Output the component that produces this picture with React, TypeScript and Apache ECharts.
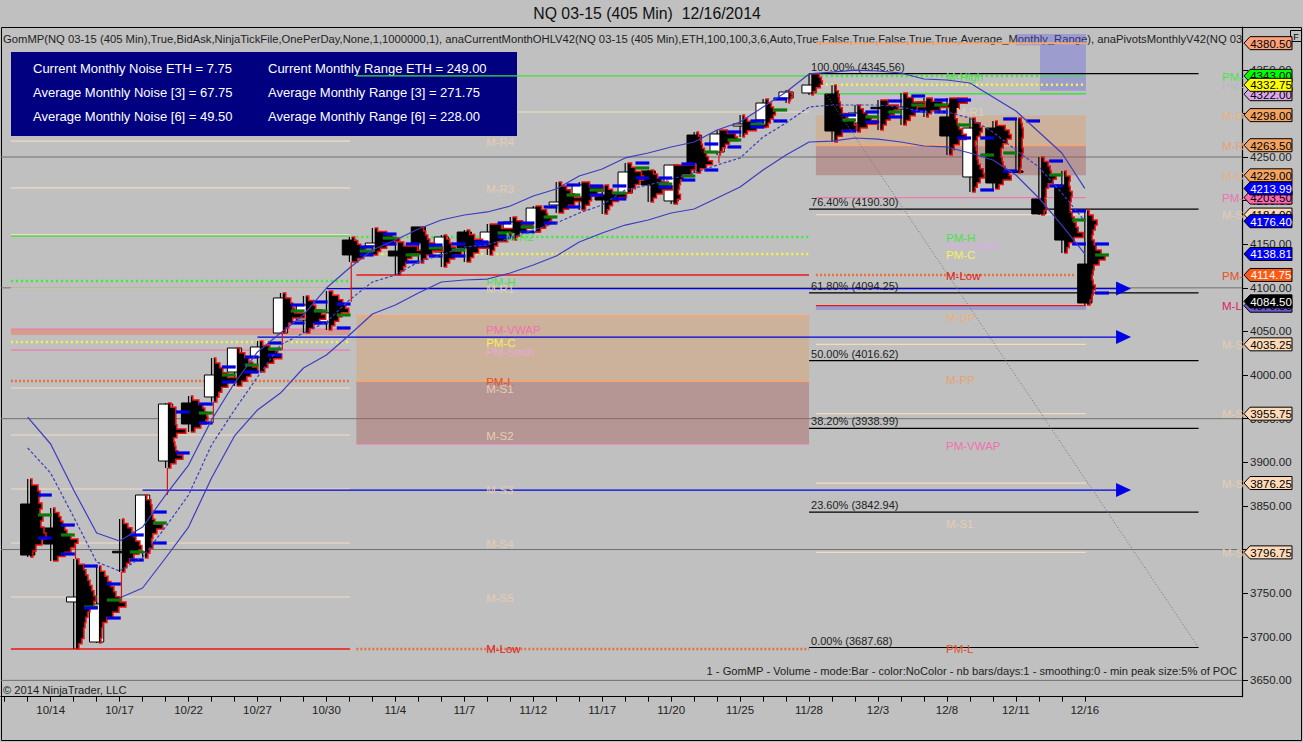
import React, { useEffect, useRef } from "react";
import * as echarts from "echarts";

const FONT = "Liberation Sans";

const dateLabels = ["10/14","10/17","10/22","10/27","10/30","11/4","11/7","11/12","11/17","11/20","11/25","11/28","12/3","12/8","12/11","12/16"];
const priceLabels = [3650,3700,3750,3800,3850,3900,3950,4000,4050,4100,4150,4200,4250,4300,4350];
const gridPrices = [3650,3800,3950,4100,4250];

// bars 1..47: open, close, low, high
const ohlc = [
[3852.2,3793.7,3791.4,3880.9],[3824.7,3806.3,3786.9,3847.6],[3739.9,3745.6,3686,3789.1],[3694,3737.6,3692.8,3781.1],
[3798,3796.5,3774.2,3835],[3797.2,3862.5,3790.3,3862.5],[3901.5,3966.8,3893.5,3968],[3968,3943.9,3934.7,3976],
[3974.9,4000.1,3969.1,4019.6],[4003.5,4031,3987.5,4031],[4020.7,4032.2,4003.5,4039.1],[4048.2,4088.4,4048.2,4094.1],
[4063.1,4080.3,4048.2,4090.7],[4060.8,4071.2,4051.7,4096.4],[4154.8,4137.7,4129.6,4158.3],[4148,4151.4,4137.7,4168.6],
[4142.2,4136.5,4114.7,4152.6],[4169.8,4151.4,4128.5,4169.8],[4141.1,4158.3,4123.9,4160.6],[4164,4145.7,4129.6,4166.3],
[4152.6,4164,4137.7,4173.2],[4158.3,4175.5,4154.8,4181.2],[4164,4191.5,4164,4193.8],[4195,4198.4,4185.8,4221.3],
[4204.1,4217.9,4189.2,4221.3],[4206.4,4200.7,4184.7,4217.9],[4208.7,4232.8,4208.7,4243.1],[4234,4217.9,4198.4,4235.1],
[4199.6,4240.8,4196.1,4240.8],[4275.2,4243.1,4231.7,4278.7],[4255.7,4276.4,4252.3,4281],[4285.5,4287.8,4272.9,4298.1],
[4292.4,4311.9,4284.4,4316.5],[4317.6,4324.5,4311.9,4326.8],[4323.4,4332.5,4321.1,4345.56],[4322.2,4279.8,4267.2,4332.5],
[4289,4300.4,4278.7,4309.6],[4307,4305.5,4281,4315.3],[4305,4307.3,4286.7,4323.4],[4313,4303.9,4295.9,4317.6],
[4295.9,4274.1,4252.3,4317.6],[4227.1,4283.2,4209.9,4294.7],[4283.2,4220.2,4213.3,4291.3],[4234,4232.2,4231.7,4294.7],
[4201.9,4184.7,4183.5,4250],[4217.9,4154.8,4140,4234],[4127.3,4082.6,4080.3,4189.2],
];

// volume at price of bars 1..47, top of the bar to its bottom
const profileVolumes = [
[2,8,10,9,12,10,13,11,14,16,12,6,3],[2,6,8,10,12,14,18,25,22,18,12,5],[3,8,10,12,14,16,18,20,18,14,12,10,9,8,8,6,3],
[2,6,9,12,15,17,21,27,20,14,8,4,3,3,2],[2,6,10,12,14,18,20,17,12,8,5,3],[2,6,7,7,8,10,18,12,8,7,8,5,3],
[3,8,8,8,8,9,18,9,6,7,8,10,15,8,3],[2,8,12,14,16,17,15,10,4],[2,6,9,14,23,14,8,5,3],[3,8,12,16,21,14,10,5],
[3,10,18,22,14,8,5],[3,8,10,12,22,10,6,3],[3,8,10,16,20,14,8,4],[4,10,14,17,20,13,10,6,3],[3,6,9,14,24,12,6],
[3,12,18,25,20,12,6,3],[6,20,24,14,10,8,6,3],[3,5,7,9,14,22,12,6,3],[3,6,8,12,18,11,6,3],[3,8,16,24,12,7,4],
[12,24,22,18,8,5,3],[4,10,20,14,8,4],[6,11,12,16,14,10,5],[3,8,12,16,24,16,10,5],[8,22,16,10,8,4],[4,8,22,14,8,5,3],
[4,8,14,16,12,8,4],[3,7,11,18,22,12,6,3],[22,18,10,7,6,5,7,4],[2,4,5,6,8,10,12,16,10,4],[8,16,18,10,6,3,1],
[2,5,14,24,14,5,2],[3,6,8,10,8,5,3],[1,3,4,3,2,1],[8,10,11,9,5,2],[2,4,5,6,8,12,20,22,8,3],[3,6,10,14,20,10,3],
[8,18,14,10,6,3],[4,10,22,14,12,7,3],[6,16,24,14,5,2],[18,10,8,6,8,10,13,17,10,5,3],
[3,8,10,8,5,3,4,5,5,6,8,11,12,8,5,3],[2,10,14,16,12,8,6,6,7,8,10,14,16,8,4],[3,4,5,5,4,4,5,4,3,3,2],
[3,7,9,10,15,12,7,5,5,4,4,5,3],[2,6,5,6,8,7,6,6,8,10,12,14,19,10,5,3],[2,6,10,8,6,5,7,9,14,18,12,7,6,5,6,8,6,5,3],
];

const valueAreaHigh = [3862.5,3828.1,3781.1,3760.5,3816.7,3843,3957.7,3966.8,4009.3,4020.7,4036.8,4080.3,4083.8,4081.5,4146.8,4161.7,4150.3,4149.1,4150.3,4152.6,4174.3,4174.3,4192.7,4217.9,4216.8,4216.8,4243.1,4225.9,4242,4264.9,4278.7,4291.3,4316.5,null,null,4298.1,4301.6,4314.2,4319.9,4315.3,4315.3,4271.8,4293.6,4291.3,4245.4,4188.1,4150.3];
const pocPrice = [3839.6,3816.7,3734.1,3742.1,3797.2,3830.4,null,3956.5,4000.1,4011.5,4029.9,4073.5,4073.5,4068.9,4142.2,4157.1,4137.7,4145.7,4143.4,4151.4,4162.9,4169.8,4181.2,4206.4,4212.2,4208.7,4237.4,4219,4228.2,4255.7,4269.5,4287.8,4303.9,null,null,4292.4,4295.9,4301.6,4309.6,4309.6,4286.7,4252.3,4254.6,null,4229.4,4177.8,4137.7];
const valueAreaLow = [3813.2,3794.9,3733,3721.5,3788,3807.5,3910.7,3945.1,3992.1,4003.5,4023,4059.7,4059.7,4054,4137.7,4150.3,4129.6,4136.5,4136.5,4149.1,4158.3,4164,4174.3,4192.7,4206.4,4201.9,4225.9,4215.6,4223.6,4235.1,4261.5,4284.4,4291.3,null,null,4279.8,4290.1,4295.9,4302.7,4301.6,4271.8,4212.2,4234,null,4216.8,4150.3,4094.1];

// thin red wick extensions: bar, upper price, lower price
const redTails = [[3,3806,3789.1],[5,3774.2,3737.6],[7,3893.5,3862.5],[9,3969.1,3945.1],[12,4048.2,4028.7],[15,4129.6,4083.8],[31,4252.3,4243]];

const bandUpper = [3951.9,3921,3868.2,3819,3809.8,3825.8,3862.5,3896.9,3948.5,3990.9,4026.5,4048.2,4068.9,4099.8,4122.7,4143.4,4154.8,4167.5,4177.8,4183.5,4187,4193.8,4205.3,4213.3,4228.2,4236.2,4248.9,4254.6,4261.5,4267.2,4281,4290.1,4307.3,4324.5,4345.2,4347.4,4349.7,4348.6,4346.3,4339.4,4338.3,4334.8,4318.8,4302.7,4278.7,4254.6,4213.99];
const bandMiddle = [3916.4,3887.7,3837.3,3785.7,3775.4,3791.4,3825.8,3862.5,3919.8,3960,3997.8,4034.5,4048.2,4060.8,4086.1,4106.7,4114.7,4129.6,4137.7,4146.8,4149.1,4157.1,4166.3,4174.3,4185.8,4195,4212.2,4217.9,4224.8,4231.7,4240.8,4248.9,4272.9,4289,4307.3,4309.6,4309.6,4309.6,4307.3,4301.6,4301.6,4294.7,4278.7,4258,4238.5,4208.7,4176.4];
const bandLower = [3744.4,3755.9,3790.3,3825.8,3882,3930.2,3960,3979.4,4008.1,4023,4046,4070,4080.3,4094.1,4106.7,4109,4110.1,4117,4126.2,4136.5,4152.6,4162.9,4172,4177.8,4185.8,4190.4,4203,4215.6,4235.1,4252.3,4267.2,4268.3,4271.8,4270.6,4267.2,4262.6,4261.5,4254.6,4246.6,4229.4,4203,4172,4138.81];
const bandLowerFirstBar = 5;

const fibPercents = ["100.00%","76.40%","61.80%","50.00%","38.20%","23.60%","0.00%"];
const fibPrices = [4345.56,4190.30,4094.25,4016.62,3938.99,3842.94,3687.68];

// level rows: first bar position, last bar position, price
const tanLevels = [[0.27,15.03,4268.3],[0.27,15.03,4214.5],[0.27,15.03,4161],[0.27,15.03,4099.8],[0.27,15.03,3985.2],[0.27,15.03,3931.3],[0.27,15.03,3869.4],[0.27,15.03,3807.5],[0.27,15.03,3745.6],[22.3,35,4301.6],[35.3,47.05,4184],[35.3,47.05,4035.25],[35.3,47.05,3955.75],[35.3,47.05,3876.25],[35.3,47.05,3796.75]];
const greenSolid = [[0.27,15.03,4159.4],[15.3,35,4342.9],[35.3,47.05,4322.5]];
const greenDotted = [[0.27,15.03,4107.8],[15.3,35,4158.3],[35.3,47.05,4343]];
const yellowDotted = [[0.27,15.03,4037.9],[15.3,35,4138.8],[35.3,47.05,4332.75]];
const orangeDotted = [[0.27,15.03,3993.2],[15.3,35,3686],[35.3,46.6,4114.75]];
const redSolid = [[0.27,15.03,3686],[15.3,35,4114.75],[35.3,47.05,4079.6]];
const pinkLevels = [[0.27,15.03,4052.8],[0.27,15.03,4028.7],[15.3,35,3921],[35.3,47.05,4203.5]];
const lavenderLevels = [[35.3,47.05,4318.5]];
const salmonLevels = [[35.3,47.05,4380.5],[15.3,35,4067.7],[15.3,35,3993.2],[35.3,47.05,4263.5]];
const arrowLines = [[14,48.36,4099.2],[11,48.36,4043.6],[6,48.36,3868.2]];
const diagonal = [[35.75,4322.2],[51.95,3687.68]];

// band rows: first bar position, last bar position, upper price, lower price
const tanBands = [[15.3,35,4067.7,3993.2],[35.3,47.05,4298,4263.5]];
const roseBands = [[15.3,35,3993.2,3921],[35.3,47.05,4263.5,4229]];
const salmonBands = [[0.27,15.03,4052.8,4046]];
const purpleBands = [[35.3,47.05,4079.6,4074.5],[45.05,47.05,4391,4326],[44,45.05,4391,4378]];

const labelRows: [number, number, string, string][] = [
[20.95,4267,"M-R4","#E6CDB0"],[20.95,4213,"M-R3","#E6CDB0"],[20.95,4107,"PM-H","#4CE04C"],[20.95,4099,"M-R1","#E6CDB0"],
[20.95,4052,"PM-VWAP","#F070B0"],[20.95,4037,"PM-C","#F5F05A"],[20.95,4027,"PM-Smth","#E8A8D8"],[20.95,3992,"PM-L","#E05020"],
[20.95,3984,"M-S1","#E6CDB0"],[20.95,3930,"M-S2","#E6CDB0"],[20.95,3868,"M-S3","#E6CDB0"],[20.95,3806,"M-S4","#E6CDB0"],
[20.95,3744,"M-S5","#E6CDB0"],[20.95,3686,"M-Low","#E02020"],[21.8,4158,"M-R2","#4CE04C"],
[40.96,4342,"M-High","#4CE04C"],[41.4,4302,"M-R1","#E6CDB0"],[40.96,4157,"PM-H","#4CE04C"],[40.96,4148,"PM-VWAP","#D8B0E0"],
[40.96,4138,"PM-C","#F5F05A"],[40.96,4114,"M-Low","#E02020"],[40.96,4066,"M-DP","#E8B080"],[40.96,3994,"M-PP","#E8A070"],
[40.96,3919,"PM-VWAP","#F070B0"],[40.96,3829.5,"M-S1","#E6CDB0"],[40.96,3686,"PM-L","#E05020"],
[52.97,4342,"PM-","#4CE04C"],[52.97,4331,"PM-","#4CE04C"],[52.97,4331,"PM-","#D8B0E0"],[52.97,4297,"M-D","#E8B080"],
[52.97,4263,"M-R","#E8A070"],[52.97,4228,"M-C","#E8B080"],[52.97,4203,"PM-","#F070B0"],[52.97,4183,"M-S","#E6CDB0"],
[52.97,4114,"PM-","#E05020"],[52.97,4079,"M-L","#E02060"],[52.97,4034,"M-S","#E6CDB0"],[52.97,3955,"M-S","#E6CDB0"],
[52.97,3875,"M-S","#E6CDB0"],[52.97,3796,"M-S","#E6CDB0"],
];

const flagRows: [number, string, string][] = [
[4380.5,"#FFA07A","#000"],[4322,"#D8A8E8","#000"],[4343,"#00FF00","#000"],[4332.75,"#FFFF00","#000"],
[4298,"#F4A460","#000"],[4263.5,"#F4A460","#000"],[4229,"#F4A460","#000"],[4203.5,"#FF69B4","#000"],[4213.99,"#0000FF","#fff"],
[4184,"#FFDAB9","#000"],[4176.4,"#0000FF","#fff"],[4138.81,"#0000FF","#fff"],[4114.75,"#FF5A14","#fff"],[4079.5,"#6A5ACD","#000"],
[4084.5,"#000","#fff"],[4035.25,"#FFDAB9","#000"],[3955.75,"#FFDAB9","#000"],[3876.25,"#FFDAB9","#000"],[3796.75,"#FFDAB9","#000"],
];

const panelRows = [
["Current Monthly Noise ETH = 7.75","Current Monthly Range ETH = 249.00"],
["Average Monthly Noise [3] = 67.75","Average Monthly Range [3] = 271.75"],
["Average Monthly Noise [6] = 49.50","Average Monthly Range [6] = 228.00"],
];

const titleText = "NQ 03-15 (405 Min)  12/16/2014";
const indicatorText = "GomMP(NQ 03-15 (405 Min),True,BidAsk,NinjaTickFile,OnePerDay,None,1,1000000,1), anaCurrentMonthOHLV42(NQ 03-15 (405 Min),ETH,100,100,3,6,Auto,True,False,True,False,True,True,Average_Monthly_Range), anaPivotsMonthlyV42(NQ 03";
const footerText = "1 - GomMP - Volume - mode:Bar - color:NoColor - nb bars/days:1 - smoothing:0 - min peak size:5% of POC";
const copyrightText = "\u00A9 2014 NinjaTrader, LLC";

const BAR_PX = 22.98;
const X_MIN = -0.161;
const X_MAX = 53.84;

const segments = (rows: number[][], stroke: string, lineWidth: number, lineDash?: number[]) => ({
  type: "custom", silent: true, data: rows,
  renderItem: (_: any, api: any) => {
    const a = api.coord([api.value(0), api.value(2)]);
    const b = api.coord([api.value(1), api.value(2)]);
    return { type: "line", shape: { x1: a[0], y1: a[1], x2: b[0], y2: b[1] },
      style: { stroke, lineWidth, lineDash, fill: null } };
  },
});

const bands = (rows: number[][], fill: string) => ({
  type: "custom", silent: true, data: rows,
  renderItem: (_: any, api: any) => {
    const a = api.coord([api.value(0), api.value(2)]);
    const b = api.coord([api.value(1), api.value(3)]);
    return { type: "rect", shape: { x: a[0], y: a[1], width: b[0] - a[0], height: b[1] - a[1] }, style: { fill } };
  },
});

const bandLine = (first: number, values: number[], dashed: boolean) => ({
  type: "line", silent: true, showSymbol: false, animation: false,
  data: values.map((v, i) => [first + i, v]),
  lineStyle: { color: "#3C3CC0", width: 1.2, type: dashed ? ([3, 2] as any) : "solid" },
});

const buildOption = () => {
  const series: any[] = [];

  series.push(segments(gridPrices.map((p) => [X_MIN, X_MAX, p]), "#707070", 1));
  series.push(bands(tanBands, "rgba(222,160,105,0.42)"));
  series.push(bands(roseBands, "rgba(170,90,90,0.42)"));
  series.push(bands(salmonBands, "rgba(230,130,110,0.6)"));
  series.push(bands(purpleBands, "rgba(90,90,235,0.35)"));
  series.push(segments(salmonLevels, "#F0A878", 2));
  series.push(segments(tanLevels, "#F2DCBE", 1.2));
  series.push(segments(pinkLevels, "#F078B0", 1.2));
  series.push(segments(lavenderLevels, "#D8B0E8", 1.5));
  series.push(segments(greenSolid, "#3FE03F", 1.3));
  series.push(segments(greenDotted, "#33F033", 2.5, [2, 3]));
  series.push(segments(yellowDotted, "#F6F640", 2.5, [2, 3]));
  series.push(segments(orangeDotted, "#E8703A", 2.5, [2, 2]));
  series.push(segments(redSolid, "#E81818", 1.3));

  // diagonal of the Fibonacci tool
  series.push({ type: "line", silent: true, showSymbol: false, data: diagonal,
    lineStyle: { color: "#707070", width: 1, type: [1, 2] as any } });
  series.push(segments(fibPrices.map((p) => [35, 51.95, p]), "#000", 1.2));

  // arrows
  series.push(segments(arrowLines, "#0000E0", 1.2));
  series.push({
    type: "custom", silent: true, data: arrowLines,
    renderItem: (_: any, api: any) => {
      const c = api.coord([api.value(1), api.value(2)]);
      return { type: "polygon", shape: { points: [[c[0], c[1] - 7], [c[0] + 15, c[1]], [c[0], c[1] + 7]] }, style: { fill: "#0000E6" } };
    },
  });

  // candles
  series.push({
    type: "custom", silent: true, data: ohlc.map((r, i) => [i + 1, ...r]),
    renderItem: (_: any, api: any) => {
      const x = api.value(0), o = api.value(1), c = api.value(2), l = api.value(3), h = api.value(4);
      const top = api.coord([x, Math.max(o, c)]);
      const bot = api.coord([x, Math.min(o, c)]);
      const hi = api.coord([x, h]);
      const lo = api.coord([x, l]);
      const w = api.size([1, 0])[0] * 0.62;
      const up = c >= o;
      return { type: "group", children: [
        { type: "line", shape: { x1: hi[0], y1: hi[1], x2: lo[0], y2: lo[1] }, style: { stroke: "#000", lineWidth: 1.2 } },
        { type: "rect", shape: { x: top[0] - w / 2, y: top[1], width: w, height: Math.max(bot[1] - top[1], 1.5) },
          style: { fill: up ? "#fff" : "#000", stroke: "#000", lineWidth: 1 } },
      ] };
    },
  });
  series.push({
    type: "custom", silent: true, data: redTails.map((r) => [r[0], r[1], r[2]]),
    renderItem: (_: any, api: any) => {
      const a = api.coord([api.value(0) + 0.08, api.value(1)]);
      const b = api.coord([api.value(0) + 0.08, api.value(2)]);
      return { type: "line", shape: { x1: a[0], y1: a[1], x2: b[0], y2: b[1] }, style: { stroke: "#E01010", lineWidth: 1.2 } };
    },
  });

  // volume profiles: black body, red only along the volume edge
  series.push({
    type: "custom", silent: true, data: ohlc.map((r, i) => [i + 1, r[2], r[3]]),
    renderItem: (params: any, api: any) => {
      const vols = profileVolumes[params.dataIndex];
      const x = api.value(0), low = api.value(1), high = api.value(2);
      const base = x + 0.1;
      const step = (high - low) / vols.length;
      const first = api.coord([base, high]);
      const last = api.coord([base, low]);
      const edge: number[][] = [];
      vols.forEach((v: number, k: number) => {
        const xv = base + v / BAR_PX;
        edge.push(api.coord([xv, high - k * step]));
        edge.push(api.coord([xv, high - (k + 1) * step]));
      });
      return { type: "group", children: [
        { type: "polygon", shape: { points: [first, ...edge, last] }, style: { fill: "#000" } },
        { type: "polyline", shape: { points: [first, ...edge, last] }, style: { fill: null, stroke: "#F01010", lineWidth: 1.5, lineJoin: "miter" } },
      ] };
    },
  });

  // value area and point of control marks
  const mark = (vals: (number | null)[]) =>
    vals.map((v, i) => (v == null ? null : [i + 1 + 0.45, i + 1 + 1.05, v])).filter(Boolean) as number[][];
  series.push(segments(mark(pocPrice), "#0A7A0A", 3.2));
  series.push(segments(mark(valueAreaHigh), "#0000E6", 3.2));
  series.push(segments(mark(valueAreaLow), "#0000E6", 3.2));

  series.push(bandLine(1, bandUpper, false));
  series.push(bandLine(1, bandMiddle, true));
  series.push(bandLine(bandLowerFirstBar, bandLower, false));

  // text labels at price levels
  series.push({
    type: "custom", silent: true, data: labelRows.map((r) => [r[0], r[1]]),
    renderItem: (params: any, api: any) => {
      const r = labelRows[params.dataIndex];
      const c = api.coord([api.value(0), api.value(1)]);
      return { type: "text", x: c[0], y: c[1], style: { text: r[2], fill: r[3], fontFamily: FONT, fontSize: 11.5, textAlign: "left", textVerticalAlign: "middle" } };
    },
  });
  series.push({
    type: "custom", silent: true, data: fibPrices.map((p) => [35, p]),
    renderItem: (params: any, api: any) => {
      const c = api.coord([api.value(0), api.value(1)]);
      const t = `${fibPercents[params.dataIndex]} (${fibPrices[params.dataIndex].toFixed(2)})`;
      return { type: "text", x: c[0] + 2, y: c[1] - 1.5, style: { text: t, fill: "#222", fontFamily: FONT, fontSize: 11, textAlign: "left", textVerticalAlign: "bottom" } };
    },
  });

  // price flags on the axis
  series.push({
    type: "custom", silent: true, data: flagRows.map((r) => [X_MAX, r[0]]),
    renderItem: (params: any, api: any) => {
      const r = flagRows[params.dataIndex];
      const c = api.coord([api.value(0), api.value(1)]);
      const x = c[0] + 2, y = c[1];
      return { type: "group", children: [
        { type: "polygon", shape: { points: [[x, y], [x + 6, y - 6.5], [x + 48, y - 6.5], [x + 48, y + 6.5], [x + 6, y + 6.5]] },
          style: { fill: r[1], stroke: "#000", lineWidth: 1 } },
        { type: "text", x: x + 27, y: y + 0.5, style: { text: r[0].toFixed(2), fill: r[2], fontFamily: FONT, fontSize: 11.5, textAlign: "center", textVerticalAlign: "middle" } },
      ] };
    },
  });

  return {
    animation: false,
    backgroundColor: "#C0C0C0",
    grid: { left: 1, top: 27, width: 1241, height: 669.7, containLabel: false },
    xAxis: {
      type: "value", min: X_MIN, max: X_MAX, splitLine: { show: false }, position: "bottom",
      axisLine: { show: true, onZero: false, lineStyle: { color: "#000", width: 1.2 } },
      axisTick: { show: true, length: 5, lineStyle: { color: "#000" }, customValues: Array.from({ length: 48 }, (_, i) => i) },
      axisLabel: { show: true, color: "#222", fontFamily: FONT, fontSize: 11.5, margin: 7,
        customValues: dateLabels.map((_, i) => 2 + 3 * i),
        formatter: (v: number) => dateLabels[(v - 2) / 3] ?? "" },
    },
    yAxis: {
      type: "value", min: 3631.3, max: 4399.03, position: "right", splitLine: { show: false },
      axisLine: { show: true, onZero: false, lineStyle: { color: "#000", width: 1.2 } },
      axisTick: { show: true, length: 6, lineStyle: { color: "#000" }, customValues: priceLabels },
      axisLabel: { show: true, color: "#222", fontFamily: FONT, fontSize: 11.5, margin: 8,
        customValues: priceLabels, formatter: (v: number) => v.toFixed(2) },
    },
    graphic: [
      { type: "rect", z: 0, silent: true, shape: { x: 1.5, y: 27.5, width: 1300, height: 713 }, style: { fill: "none", stroke: "#000", lineWidth: 1 } },
      { type: "rect", z: 1, silent: true, shape: { x: 11, y: 52, width: 506, height: 84 }, style: { fill: "#000080" } },
      ...panelRows.flatMap((row, i) => row.map((t, j) => ({
        type: "text", z: 1, silent: true, x: j === 0 ? 33 : 268, y: 68 + i * 24,
        style: { text: t, fill: "#fff", fontFamily: FONT, fontSize: 13, textVerticalAlign: "middle" },
      }))),
      { type: "text", z: 1, silent: true, x: 647, y: 13, style: { text: titleText, fill: "#111", fontFamily: FONT, fontSize: 15.8, textAlign: "center", textVerticalAlign: "middle" } },
      { type: "text", z: 1, silent: true, x: 3, y: 38.5, style: { text: indicatorText, fill: "#222", fontFamily: FONT, fontSize: 11.26, textVerticalAlign: "middle" } },
      { type: "text", z: 1, silent: true, x: 3, y: 690, style: { text: copyrightText, fill: "#222", fontFamily: FONT, fontSize: 11.2, textVerticalAlign: "middle" } },
      { type: "text", z: 1, silent: true, x: 1237, y: 671, style: { text: footerText, fill: "#222", fontFamily: FONT, fontSize: 11.15, textAlign: "right", textVerticalAlign: "middle" } },
      { type: "rect", z: 1, silent: true, shape: { x: 1290.5, y: 30.5, width: 11, height: 11 }, style: { fill: "#C0C0C0", stroke: "#000", lineWidth: 1 } },
      { type: "text", z: 1, silent: true, x: 1296, y: 36.5, style: { text: "F", fill: "#000", fontFamily: FONT, fontSize: 9, textAlign: "center", textVerticalAlign: "middle" } },
    ],
    series,
  };
};

export default function App() {
  const ref = useRef<HTMLDivElement>(null);
  useEffect(() => {
    const chart = echarts.init(ref.current!, null, { renderer: "svg" });
    chart.setOption(buildOption() as any);
    return () => chart.dispose();
  }, []);
  return <div ref={ref} style={{ position: "absolute", left: 0, top: 0, width: 1303, height: 742, overflow: "hidden" }} />;
}
